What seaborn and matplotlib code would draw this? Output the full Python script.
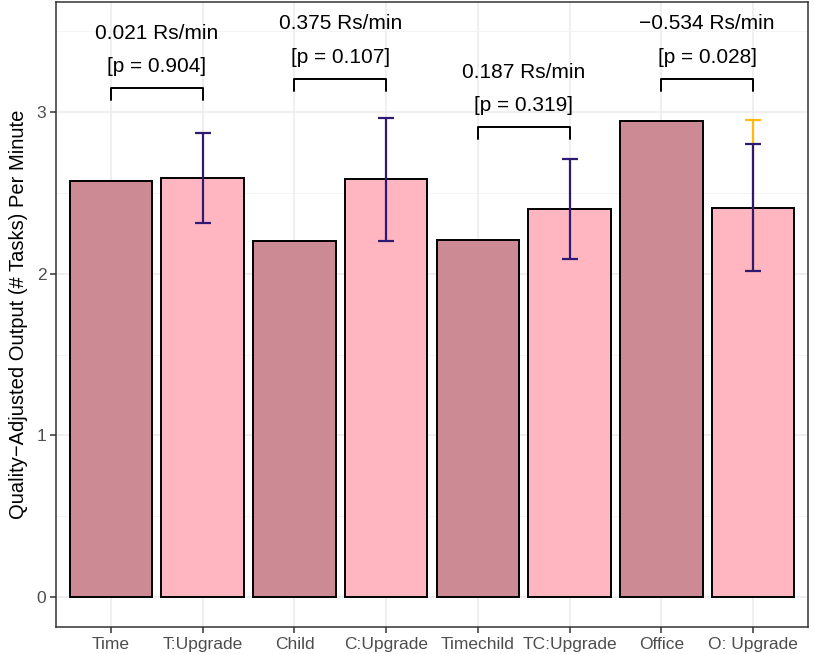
import numpy as np
import pandas as pd
import matplotlib
matplotlib.use("Agg")
import matplotlib.pyplot as plt
import seaborn as sns

# ---- data ----
groups = ["Time", "T:Upgrade", "Child", "C:Upgrade",
          "Timechild", "TC:Upgrade", "Office", "O: Upgrade"]
kinds = ["base", "upgrade"] * 4
means = [2.574, 2.593, 2.204, 2.586, 2.210, 2.401, 2.944, 2.407]
ci_low = [np.nan, 2.315, np.nan, 2.204, np.nan, 2.093, np.nan, 2.019]
ci_high = [np.nan, 2.870, np.nan, 2.963, np.nan, 2.710, np.nan, 2.802]
alt_high = [np.nan, np.nan, np.nan, np.nan, np.nan, np.nan, np.nan, 2.951]

effects = ["0.021 Rs/min", "0.375 Rs/min", "0.187 Rs/min", "\u22120.534 Rs/min"]
pvals = ["[p = 0.904]", "[p = 0.107]", "[p = 0.319]", "[p = 0.028]"]
bracket_y = [3.148, 3.204, 2.907, 3.204]

df = pd.DataFrame({"group": groups, "kind": kinds, "mean": means,
                   "lo": ci_low, "hi": ci_high, "alt": alt_high})

sns.set_style("white")
plt.rcParams["font.family"] = ["Liberation Sans", "DejaVu Sans"]

fig = plt.figure(figsize=(8.14, 6.54), dpi=100)
ax = fig.add_axes([56 / 814, 1 - 627 / 654, (808 - 56) / 814, (627 - 2) / 654])

sns.barplot(data=df, x="group", y="mean", hue="kind", order=groups,
            palette={"base": "#CC8A94", "upgrade": "#FFB6C1"}, saturation=1,
            dodge=False, width=0.9, edgecolor="black", linewidth=1.4,
            legend=False, ax=ax, zorder=2)

xpos = np.arange(len(groups))
# orange (alternative) interval drawn first, navy one on top
m = ~df["alt"].isna()
ax.errorbar(xpos[m], df["mean"][m],
            yerr=[df["mean"][m] - df["lo"][m], df["alt"][m] - df["mean"][m]],
            fmt="none", ecolor="#FFB90F", elinewidth=1.6, capsize=6, capthick=1.6, zorder=3)
m = ~df["hi"].isna()
ax.errorbar(xpos[m], df["mean"][m],
            yerr=[df["mean"][m] - df["lo"][m], df["hi"][m] - df["mean"][m]],
            fmt="none", ecolor="#2E1A72", elinewidth=1.6, capsize=6, capthick=1.6, zorder=4)

# brackets with effect labels
drop = 0.075
for i in range(4):
    x0, x1 = 2 * i, 2 * i + 1
    y = bracket_y[i]
    ax.plot([x0, x0, x1, x1], [y - drop, y, y, y - drop], color="black", lw=1.4, zorder=5)
    xm = (x0 + x1) / 2
    ax.text(xm, y + 0.135, pvals[i], ha="center", va="center", fontsize=15, color="black")
    ax.text(xm, y + 0.34, effects[i], ha="center", va="center", fontsize=15, color="black")

ax.set_xlim(-0.6, 7.6)
ax.set_ylim(-0.185, 3.68)
ax.set_yticks([0, 1, 2, 3])
ax.set_yticks([0.5, 1.5, 2.5, 3.5], minor=True)
ax.grid(True, which="major", color="#EBEBEB", lw=1.1, zorder=0)
ax.grid(True, which="minor", axis="y", color="#F2F2F2", lw=0.6, zorder=0)
ax.set_axisbelow(True)
for s in ax.spines.values():
    s.set_color("#333333")
    s.set_linewidth(1.1)
ax.tick_params(axis="both", which="major", length=4, width=1.1, color="#333333",
               labelcolor="#4D4D4D", labelsize=12.5, direction="out",
               bottom=True, left=True, pad=3)
ax.tick_params(axis="y", which="minor", length=0)
ax.set_xlabel("")
ax.set_ylabel("Quality\u2212Adjusted Output (# Tasks) Per Minute", fontsize=14.5,
              labelpad=6, color="black")

fig.savefig("out.png", dpi=100)
